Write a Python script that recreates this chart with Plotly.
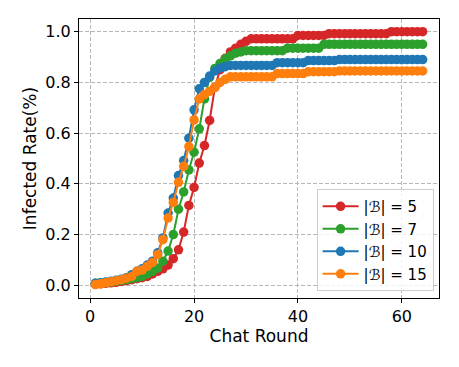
import plotly.graph_objects as go

# Chat rounds 1..64
rounds = list(range(1, 65))

# |B| = 5
infect_b5 = [0.005, 0.006, 0.008, 0.010, 0.012, 0.015, 0.018, 0.022, 0.026, 0.030,
             0.035, 0.045, 0.055, 0.065, 0.080, 0.105, 0.140, 0.210, 0.315, 0.386,
             0.482, 0.551, 0.650, 0.780, 0.850, 0.895, 0.920, 0.935, 0.950, 0.962,
             0.972, 0.972, 0.972, 0.972, 0.972, 0.972, 0.972, 0.972, 0.972, 0.985,
             0.985, 0.985, 0.985, 0.985, 0.985, 0.992, 0.992, 0.992, 0.992, 0.992,
             0.992, 0.992, 0.992, 0.992, 0.992, 0.992, 0.992, 1.000, 1.000, 1.000,
             1.000, 1.000, 1.000, 1.000]

# |B| = 7
infect_b7 = [0.008, 0.009, 0.011, 0.013, 0.016, 0.019, 0.022, 0.026, 0.030, 0.035,
             0.045, 0.055, 0.068, 0.095, 0.135, 0.200, 0.300, 0.368, 0.455, 0.525,
             0.617, 0.735, 0.820, 0.855, 0.875, 0.893, 0.905, 0.915, 0.920, 0.925,
             0.925, 0.925, 0.925, 0.925, 0.925, 0.925, 0.925, 0.935, 0.935, 0.935,
             0.935, 0.935, 0.935, 0.935, 0.950, 0.950, 0.950, 0.950, 0.950, 0.950,
             0.950, 0.950, 0.950, 0.950, 0.950, 0.950, 0.950, 0.950, 0.950, 0.950,
             0.950, 0.950, 0.950, 0.950]

# |B| = 10
infect_b10 = [0.008, 0.010, 0.013, 0.016, 0.020, 0.024, 0.030, 0.042, 0.055, 0.065,
              0.080, 0.095, 0.128, 0.187, 0.285, 0.344, 0.433, 0.492, 0.580, 0.692,
              0.775, 0.800, 0.825, 0.845, 0.857, 0.862, 0.867, 0.867, 0.867, 0.867,
              0.867, 0.867, 0.867, 0.867, 0.867, 0.878, 0.878, 0.878, 0.878, 0.878,
              0.878, 0.886, 0.886, 0.886, 0.886, 0.886, 0.886, 0.890, 0.890, 0.890,
              0.890, 0.890, 0.890, 0.890, 0.890, 0.890, 0.890, 0.890, 0.890, 0.890,
              0.890, 0.890, 0.890, 0.890]

# |B| = 15
infect_b15 = [0.003, 0.006, 0.010, 0.014, 0.018, 0.022, 0.028, 0.035, 0.055, 0.060,
              0.075, 0.090, 0.121, 0.180, 0.265, 0.327, 0.406, 0.469, 0.547, 0.652,
              0.735, 0.752, 0.765, 0.780, 0.800, 0.812, 0.822, 0.822, 0.822, 0.822,
              0.822, 0.822, 0.822, 0.822, 0.822, 0.835, 0.835, 0.835, 0.835, 0.835,
              0.835, 0.842, 0.842, 0.842, 0.842, 0.842, 0.842, 0.845, 0.845, 0.845,
              0.845, 0.845, 0.845, 0.845, 0.845, 0.845, 0.845, 0.845, 0.845, 0.845,
              0.845, 0.845, 0.845, 0.845]

series = [('|ℬ| = 5', infect_b5, '#d62728'),
          ('|ℬ| = 7', infect_b7, '#2ca02c'),
          ('|ℬ| = 10', infect_b10, '#1f77b4'),
          ('|ℬ| = 15', infect_b15, '#ff7f0e')]

fig = go.Figure()
for nome, vals, cor in series:
    fig.add_trace(go.Scatter(x=rounds, y=vals, mode='lines+markers', name=nome,
                             line={'color': cor, 'width': 2},
                             marker={'color': cor, 'size': 9.5}))

eixo = dict(showline=True, linecolor='black', linewidth=1, mirror=True,
            ticks='outside', ticklen=4, tickcolor='black', automargin=False,
            showgrid=True, gridcolor='#b8b8b8', griddash='4px,2px', gridwidth=1,
            zeroline=False, tickfont={'size': 16, 'color': 'black'})

# a página tem margem de 8px no body, por isso compensamos nas margens
fig.update_layout(
    width=459, height=367,
    margin=dict(l=71, r=28, t=11, b=77),
    plot_bgcolor='white', paper_bgcolor='white',
    font={'family': 'DejaVu Sans', 'color': 'black'},
    xaxis=dict(eixo, range=[-2.15, 67.15], tickvals=[0, 20, 40, 60],
               title={'text': 'Chat Round', 'font': {'size': 17}, 'standoff': 2}),
    yaxis=dict(eixo, range=[-0.05, 1.05], tickvals=[0, 0.2, 0.4, 0.6, 0.8, 1.0],
               tickformat='.1f',
               title={'text': 'Infected Rate(%)', 'font': {'size': 17}, 'standoff': 4}),
    legend=dict(x=0.985, y=0.025, xanchor='right', yanchor='bottom',
                bgcolor='rgba(255,255,255,0.8)', bordercolor='#cccccc', borderwidth=1,
                font={'size': 15}, itemwidth=36, tracegroupgap=2),
    showlegend=True,
)

fig.write_html("out.html")
